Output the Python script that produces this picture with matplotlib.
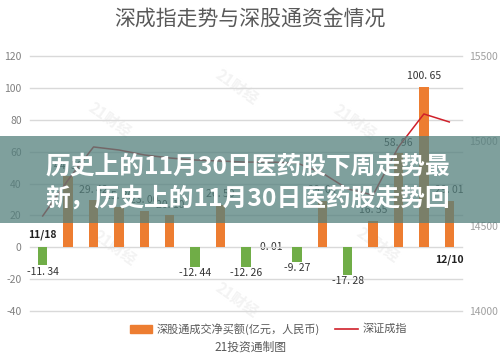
import matplotlib
matplotlib.use('Agg')
import matplotlib.pyplot as plt
from matplotlib.patches import Rectangle
from matplotlib.lines import Line2D

plt.rcParams['font.family'] = ['Noto Sans CJK SC', 'DejaVu Sans']

# ---- data ----
dates = ['11/18', '11/19', '11/20', '11/21', '11/22', '11/25', '11/26', '11/27', '11/28',
         '11/29', '12/02', '12/03', '12/04', '12/05', '12/06', '12/09', '12/10']
flows = [-11.34, 44.5, 29.42, 25.3, 23.0, 20.1, -12.44, 26.5, -12.26, 0.01,
         -9.27, 29.04, -17.28, 16.55, 58.96, 100.65, 29.01]
szci = [14559, 14771, 14965, 14947, 14918, 14900, 14888, 14882, 14876, 14876,
        14871, 14812, 14718, 14682, 14965, 15159, 15112]
left_ticks = [-40, -20, 0, 20, 40, 60, 80, 100, 120]
right_ticks = [14000, 14500, 15000, 15500]
title = '深成指走势与深股通资金情况'
banner_lines = ['历史上的11月30日医药股下周走势最', '新，历史上的11月30日医药股走势回']
legend_bar = '深股通成交净买额(亿元，人民币)'
legend_line = '深证成指'
footer = '21投资通制图'

ORANGE = '#ED7D31'
GREEN = '#70AD47'
RED = '#D0202A'
GRID = '#D9D9D9'
TICK = '#808080'

W, H = 500, 359
fig = plt.figure(figsize=(W / 100, H / 100), dpi=100)
fig.patch.set_facecolor('white')

def fx(px):
    return px / W

def fy(py):
    return 1 - py / H

# watermarks (very faint, behind everything)
for (px, py) in [(237, 87), (110, 120), (355, 122), (115, 248), (237, 300), (378, 245)]:
    fig.text(fx(px), fy(py), '21财经', rotation=-35, ha='center', va='center',
             fontsize=11, color='#F3F3F3', fontweight='bold', zorder=-1)

ax = fig.add_axes([fx(30), fy(311), fx(462) - fx(30), fy(56) - fy(311)])
ax.patch.set_alpha(0)
x = list(range(len(flows)))
colors = [ORANGE if v >= 0 else GREEN for v in flows]
ax.bar(x, flows, width=0.37, color=colors, zorder=2)
ax.set_xlim(-0.5, len(flows) - 0.5)
ax.set_ylim(left_ticks[0], left_ticks[-1])
ax.set_yticks(left_ticks)
ax.set_yticklabels([str(t) for t in left_ticks], color=TICK, fontsize=7.5)
ax.set_xticks([])
for s in ax.spines.values():
    s.set_visible(False)
ax.tick_params(axis='y', length=0, pad=6)
for t in left_ticks:
    ax.axhline(t, color=GRID, lw=1, zorder=1, clip_on=False)

# data labels
for i, v in enumerate(flows):
    lab = f'{v:.2f}'.replace('.', '. ')
    if v >= 1:
        ax.annotate(lab, (i, v), xytext=(0, 4), textcoords='offset points',
                    ha='center', va='bottom', fontsize=7.5, color='#333333', zorder=3)
    elif v >= 0:
        ax.annotate(lab, (i, v), xytext=(0, 0), textcoords='offset points',
                    ha='center', va='center', fontsize=7.5, color='#333333', zorder=0.5)
    else:
        ax.annotate(lab, (i, v), xytext=(0, -1), textcoords='offset points',
                    ha='center', va='top', fontsize=7.5, color='#333333', zorder=3)

ax.annotate(dates[0], (0, 0), xytext=(0, 5), textcoords='offset points',
            ha='center', va='bottom', fontsize=7.5, fontweight='bold', color='#222222')
ax.annotate(dates[-1], (len(flows) - 1, 0), xytext=(0, -5), textcoords='offset points',
            ha='center', va='top', fontsize=7.5, fontweight='bold', color='#222222')

ax2 = ax.twinx()
ax2.plot(x, szci, color=RED, lw=1.1, zorder=4)
ax2.set_ylim(14000, 15500)
ax2.set_yticks(right_ticks)
ax2.set_yticklabels([str(t) for t in right_ticks], color='#A0A0A0', fontsize=7.5)
ax2.tick_params(axis='y', length=0, pad=5)
for s in ax2.spines.values():
    s.set_visible(False)

# title
fig.text(0.5, fy(20), title, ha='center', va='center', fontsize=15, color='#595959')

# legend
fig.add_artist(Rectangle((fx(130), fy(333)), fx(22), 8 / H, transform=fig.transFigure,
                         color=ORANGE))
fig.text(fx(157), fy(329), legend_bar, ha='left', va='center', fontsize=8, color='#595959')
fig.add_artist(Line2D([fx(335), fx(358)], [fy(329), fy(329)], transform=fig.transFigure,
                      color=RED, lw=1.2))
fig.text(fx(363), fy(329), legend_line, ha='left', va='center', fontsize=8, color='#595959')
fig.text(0.5, fy(347), footer, ha='center', va='center', fontsize=8.5, color='#595959')

# banner overlay
fig.add_artist(Rectangle((0, fy(223)), 1, (223 - 136) / H, transform=fig.transFigure,
                         facecolor=(0.33, 0.50, 0.49), alpha=0.75, edgecolor='none', zorder=5))
fig.text(fx(45), fy(167), banner_lines[0], ha='left', va='center', fontsize=17.8,
         fontweight='bold', color='white', zorder=6)
fig.text(fx(45), fy(198), banner_lines[1], ha='left', va='center', fontsize=17.8,
         fontweight='bold', color='white', zorder=6)

fig.savefig('out.png', dpi=100, facecolor='white')
